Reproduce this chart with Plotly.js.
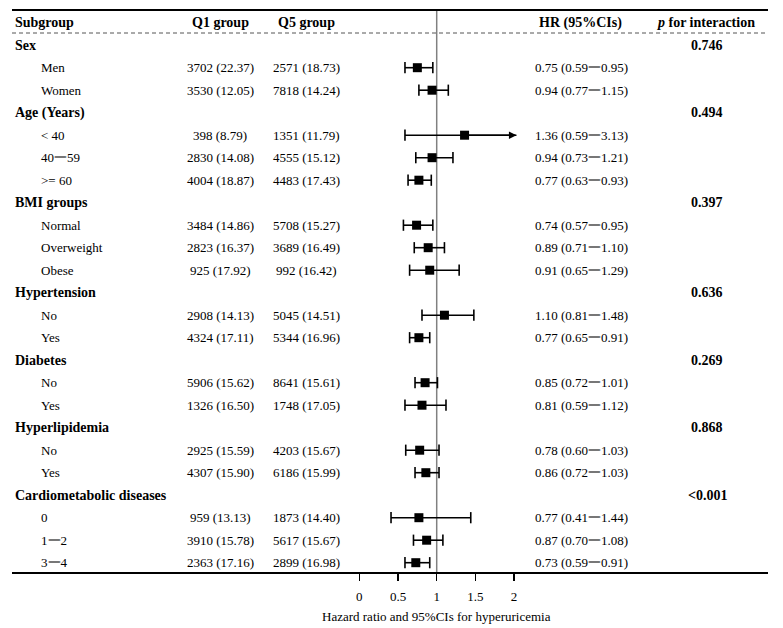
<!DOCTYPE html>
<html>
<head>
<meta charset="utf-8">
<script src="https://cdn.plot.ly/plotly-3.0.1.min.js"></script>
<style>html,body{margin:0;padding:0;background:#fff;}#chart{width:783px;height:628px;}</style>
</head>
<body>
<div id="chart"></div>
<script>
// ---- data ----
var groupNames = ["Sex", "Age (Years)", "BMI groups", "Hypertension", "Diabetes", "Hyperlipidemia", "Cardiometabolic diseases"];
var groupP = ["0.746", "0.494", "0.397", "0.636", "0.269", "0.868", "&lt;0.001"];
var groupSubs = [
  ["Men", "Women"],
  ["&lt; 40", "40一59", "&gt;= 60"],
  ["Normal", "Overweight", "Obese"],
  ["No", "Yes"],
  ["No", "Yes"],
  ["No", "Yes"],
  ["0", "1一2", "3一4"]
];
var q1N   = [3702, 3530, 398, 2830, 4004, 3484, 2823, 925, 2908, 4324, 5906, 1326, 2925, 4307, 959, 3910, 2363];
var q1Pct = ["22.37","12.05","8.79","14.08","18.87","14.86","16.37","17.92","14.13","17.11","15.62","16.50","15.59","15.90","13.13","15.78","17.16"];
var q5N   = [2571, 7818, 1351, 4555, 4483, 5708, 3689, 992, 5045, 5344, 8641, 1748, 4203, 6186, 1873, 5617, 2899];
var q5Pct = ["18.73","14.24","11.79","15.12","17.43","15.27","16.49","16.42","14.51","16.96","15.61","17.05","15.67","15.99","14.40","15.67","16.98"];
var hr = [0.75, 0.94, 1.36, 0.94, 0.77, 0.74, 0.89, 0.91, 1.10, 0.77, 0.85, 0.81, 0.78, 0.86, 0.77, 0.87, 0.73];
var lo = [0.59, 0.77, 0.59, 0.73, 0.63, 0.57, 0.71, 0.65, 0.81, 0.65, 0.72, 0.59, 0.60, 0.72, 0.41, 0.70, 0.59];
var hi = [0.95, 1.15, 3.13, 1.21, 0.93, 0.95, 1.10, 1.29, 1.48, 0.91, 1.01, 1.12, 1.03, 1.03, 1.44, 1.08, 0.91];
var tickVals = [0, 0.5, 1, 1.5, 2];
var xTitle = "Hazard ratio and 95%CIs for hyperuricemia";

// ---- layout constants ----
var W = 783, H = 628;
var L = 12, R = 768, T = 10, B = 572;
var rowH = 22.5, row0 = 22.7;       // pixel centre of header row, row spacing
var pxPerUnit = 77.4, px0 = 359.3;  // pixel of HR = 0
var CI_MAX = 2.03;                  // display limit for CI lines
var FONT = "Liberation Serif, Times New Roman, serif";

function px2x(p) { return (p - px0) / pxPerUnit; }
function px2paper(p) { return (p - L) / (R - L); }
function fmt2(v) { return v.toFixed(2); }

var annotations = [];
var shapes = [];
function txt(text, xpx, y, anchor, size, bold) {
  annotations.push({
    xref: "paper", yref: "y", x: px2paper(xpx), y: y, xanchor: anchor, yanchor: "middle",
    text: bold ? "<b>" + text + "</b>" : text, showarrow: false,
    font: {family: FONT, size: size, color: "#000"}
  });
}

// header
txt("Subgroup", 13, 0, "left", 14, true);
txt("Q1 group", 220, 0, "center", 14, true);
txt("Q5 group", 306, 0, "center", 14, true);
txt("HR (95%CIs)", 580, 0, "center", 14, true);
txt("<i>p</i> for interaction", 706, 0, "center", 14, true);

// rows
var row = 0, k = 0;
var ptY = [], ptX = [], lineX = [], lineY = [], capX = [], capY = [];
for (var g = 0; g < groupNames.length; g++) {
  row++;
  txt(groupNames[g], 13, row, "left", 14, true);
  txt(groupP[g], 707, row, "center", 14, true);
  for (var s = 0; s < groupSubs[g].length; s++) {
    row++;
    txt(groupSubs[g][s], 39, row, "left", 13, false);
    txt(q1N[k] + " (" + q1Pct[k] + ")", 220, row, "center", 13, false);
    txt(q5N[k] + " (" + q5Pct[k] + ")", 306, row, "center", 13, false);
    txt(fmt2(hr[k]) + " (" + fmt2(lo[k]) + "一" + fmt2(hi[k]) + ")", 533, row, "left", 13, false);
    ptX.push(hr[k]); ptY.push(row);
    var hiC = Math.min(hi[k], CI_MAX);
    lineX.push(lo[k], hiC, null); lineY.push(row, row, null);
    capX.push(lo[k]); capY.push(row);
    if (hi[k] > CI_MAX) {
      annotations.push({xref: "x", yref: "y", axref: "x", ayref: "y", x: CI_MAX, y: row, ax: hr[k], ay: row,
        text: "", showarrow: true, arrowhead: 2, arrowsize: 1, arrowwidth: 1.5, arrowcolor: "#000", standoff: 0});
    } else {
      capX.push(hi[k]); capY.push(row);
    }
    k++;
  }
}

var yTop = (T - row0) / rowH, yBot = (B - row0) / rowH;

// x-axis title
annotations.push({xref: "x", yref: "paper", x: 1, y: -(616 - B) / (B - T), xanchor: "center", yanchor: "middle",
  text: xTitle, showarrow: false, font: {family: FONT, size: 13, color: "#000"}});

// lines
shapes.push({type: "line", xref: "paper", yref: "paper", x0: 0, x1: 1, y0: 1, y1: 1, line: {color: "#000", width: 2}});
shapes.push({type: "line", xref: "paper", yref: "y", x0: 0, x1: 1, y0: (33 - row0) / rowH, y1: (33 - row0) / rowH,
  line: {color: "#555", width: 1, dash: "4px,3px"}});
shapes.push({type: "line", xref: "x", yref: "paper", x0: 1, x1: 1, y0: 0, y1: 1, line: {color: "#808080", width: 1.5}, layer: "below"});

var traces = [
  {x: lineX, y: lineY, mode: "lines", line: {color: "#000", width: 1.6}, hoverinfo: "skip", showlegend: false},
  {x: capX, y: capY, mode: "markers", marker: {symbol: "line-ns", size: 8, line: {color: "#000", width: 1.6}}, hoverinfo: "skip", showlegend: false},
  {x: ptX, y: ptY, mode: "markers", marker: {symbol: "square", size: 9, color: "#000"}, showlegend: false}
];

var layout = {
  width: W, height: H,
  margin: {l: L, r: W - R, t: T, b: H - B, pad: 0},
  paper_bgcolor: "#fff", plot_bgcolor: "#fff",
  showlegend: false,
  font: {family: FONT, size: 13, color: "#000"},
  xaxis: {range: [px2x(L), px2x(R)], tickvals: tickVals, ticktext: tickVals.map(String),
    showgrid: false, zeroline: false, showline: true, linecolor: "#000", linewidth: 2,
    ticks: "outside", ticklen: 7, tickwidth: 1.5, tickcolor: "#000", ticklabelstandoff: 4,
    tickfont: {family: FONT, size: 13, color: "#000"}, fixedrange: true},
  yaxis: {range: [yBot, yTop], visible: false, showgrid: false, zeroline: false, fixedrange: true},
  shapes: shapes,
  annotations: annotations
};

Plotly.newPlot("chart", traces, layout, {staticPlot: true, displayModeBar: false});
</script>
</body>
</html>
